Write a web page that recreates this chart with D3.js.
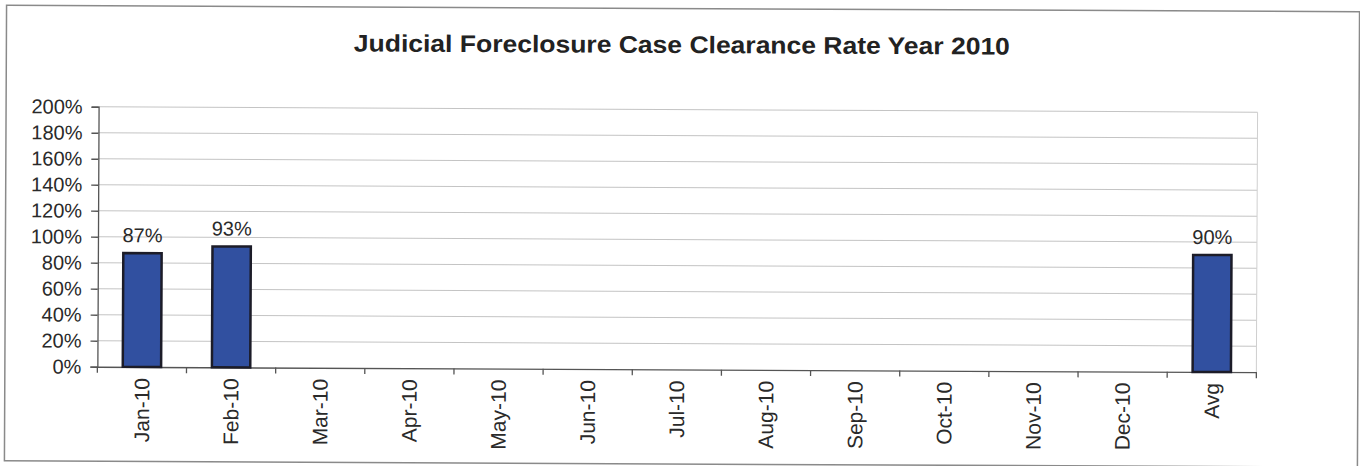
<!DOCTYPE html>
<html><head><meta charset="utf-8">
<script src="https://cdn.jsdelivr.net/npm/d3@7"></script>
<style>html,body{margin:0;padding:0;background:#fff;overflow:hidden}</style>
</head><body>
<svg id="c" width="1360" height="466"></svg>
<script>
const title = "Judicial Foreclosure Case Clearance Rate Year 2010";
const categories = ["Jan-10","Feb-10","Mar-10","Apr-10","May-10","Jun-10","Jul-10","Aug-10","Sep-10","Oct-10","Nov-10","Dec-10","Avg"];
const values = [0.875, 0.93, null, null, null, null, null, null, null, null, null, null, 0.90];
const valueLabels = ["87%","93%","","","","","","","","","","","90%"];
const yTicks = [0,0.2,0.4,0.6,0.8,1.0,1.2,1.4,1.6,1.8,2.0];

const svg = d3.select("#c");
const root = svg.append("g").attr("transform","rotate(0.27,680,233)");
const font = "'Liberation Sans', Arial, sans-serif";

root.append("rect").attr("x",5.5).attr("y",8.5).attr("width",1353).attr("height",455.5)
  .attr("fill","#fff").attr("stroke","#8a8a8a").attr("stroke-width",1.5);

root.append("text").attr("x",681).attr("y",53).attr("text-anchor","middle")
  .attr("font-family",font).attr("font-weight","bold").attr("font-size",24)
  .attr("textLength",656).attr("lengthAdjust","spacingAndGlyphs")
  .attr("fill","#222").text(title);

const L=98, R=1257, T=109.5, B=369.5;
const x = d3.scaleBand().domain(categories).range([L,R]).paddingInner(0.57).paddingOuter(0.285);
const xb = d3.scaleBand().domain(categories).range([L,R]);
const y = d3.scaleLinear().domain([0,2]).range([B,T]);

// gridlines
root.append("g").selectAll("line").data(yTicks.filter(d=>d>0)).join("line")
  .attr("x1",L).attr("x2",R).attr("y1",d=>y(d)).attr("y2",d=>y(d))
  .attr("stroke","#c4c4c4").attr("stroke-width",1);
root.append("line").attr("x1",R).attr("x2",R).attr("y1",T).attr("y2",B)
  .attr("stroke","#cfcfcf").attr("stroke-width",1);

// y axis
const ya = root.append("g").attr("transform",`translate(${L},0)`)
  .call(d3.axisLeft(y).tickValues(yTicks).tickFormat(d3.format(".0%")).tickSize(7).tickPadding(9));
ya.select(".domain").attr("stroke","#555").attr("stroke-width",1.3);
ya.selectAll(".tick line").attr("stroke","#555").attr("stroke-width",1.3);
ya.selectAll("text").attr("font-family",font).attr("font-size",20).attr("fill","#2a2a2a");

// x axis
const xa = root.append("g").attr("transform",`translate(0,${B})`)
  .call(d3.axisBottom(xb).tickSize(0).tickSizeOuter(0));
xa.select(".domain").attr("stroke","#555").attr("stroke-width",1.3);
xa.selectAll(".tick text")
  .attr("font-family",font).attr("font-size",21).attr("fill","#2a2a2a")
  .attr("transform","rotate(-90)").attr("text-anchor","end")
  .attr("x",-11).attr("y",0).attr("dy","0.35em");
// boundary ticks
const bounds = categories.map(c=>xb(c)).concat([R]);
root.append("g").selectAll("line").data(bounds).join("line")
  .attr("x1",d=>d).attr("x2",d=>d).attr("y1",B).attr("y2",B+6)
  .attr("stroke","#555").attr("stroke-width",1.3);

// bars
const data = categories.map((c,i)=>({c, v:values[i], lab:valueLabels[i]})).filter(d=>d.v!=null);
root.append("g").selectAll("rect").data(data).join("rect")
  .attr("x",d=>x(d.c)).attr("width",x.bandwidth())
  .attr("y",d=>y(d.v)).attr("height",d=>B-y(d.v))
  .attr("fill","#3150a0").attr("stroke","#1c1c28").attr("stroke-width",2.5);

root.append("g").selectAll("text").data(data).join("text")
  .attr("x",d=>x(d.c)+x.bandwidth()/2).attr("y",d=>y(d.v)-11)
  .attr("text-anchor","middle").attr("font-family",font).attr("font-size",20)
  .attr("fill","#2a2a2a").text(d=>d.lab);
</script>
</body></html>
